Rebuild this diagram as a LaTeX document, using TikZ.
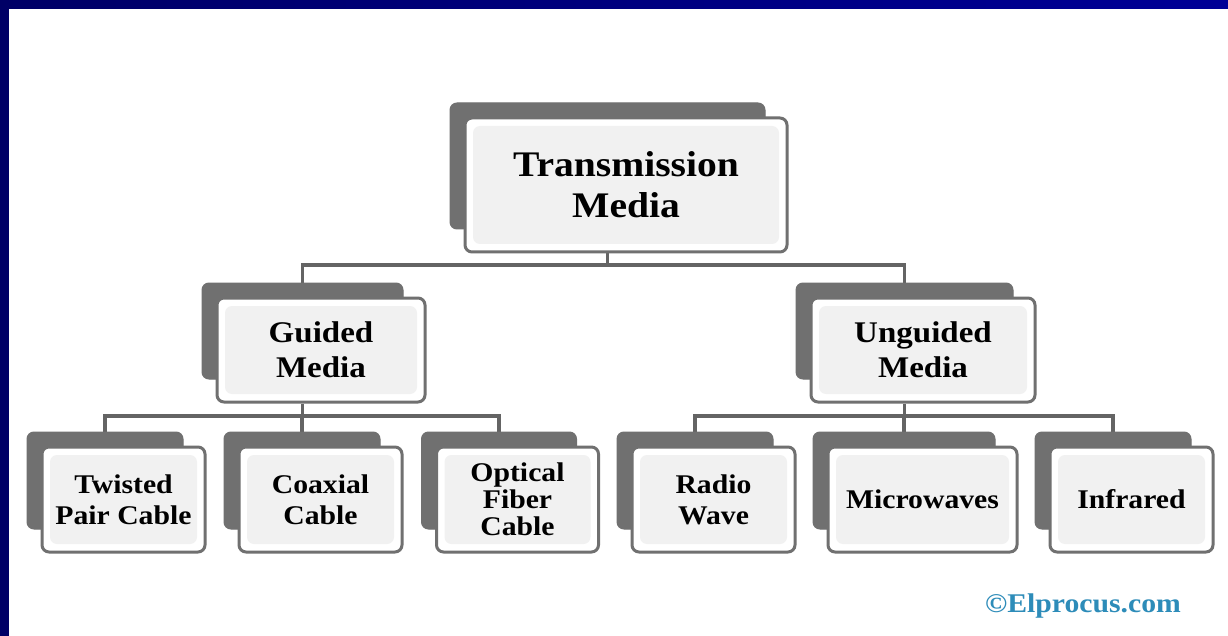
\documentclass[tikz,border=0pt]{standalone}
\usepackage{fontspec}
\setmainfont{Liberation Serif}[FakeStretch=1.1]
\usetikzlibrary{backgrounds}
\definecolor{navyl}{RGB}{0,0,102}
\definecolor{navyr}{RGB}{0,0,150}
\definecolor{shadowgray}{RGB}{112,112,112}
\definecolor{edgegray}{RGB}{112,112,112}
\definecolor{innergray}{RGB}{241,241,241}
\definecolor{linegray}{RGB}{100,100,100}
\definecolor{markblue}{RGB}{45,140,185}
\tikzset{
  shadowbox/.style={fill=shadowgray, draw=shadowgray, line width=1pt, rounded corners=7pt, inner sep=0pt},
  frontbox/.style={fill=white, draw=edgegray, line width=3pt, rounded corners=7pt, inner sep=0pt, align=center,
    path picture={\fill[innergray] ([shift={(8pt,-8pt)}]path picture bounding box.north west) rectangle ([shift={(-8pt,8pt)}]path picture bounding box.south east);}},
  toptext/.style={font=\fontsize{36}{41}\selectfont\bfseries},
  midtext/.style={font=\fontsize{30}{35}\selectfont\bfseries},
  leaftext/.style={font=\fontsize{27}{31}\selectfont\bfseries},
  leaftight/.style={font=\fontsize{27}{27}\selectfont\bfseries},
  conn/.style={draw=linegray, line width=3.2pt},
  wmark/.style={text=markblue, font=\fontsize{27}{27}\selectfont\bfseries, inner sep=0pt}
}
\newcommand\tmbox[7]{%
  \node[shadowbox, minimum width={#4-7}, minimum height={#5-8}] (#1s) at ({#2-18.5},{#3-19}) {};
  \node[frontbox, minimum width=#4, minimum height=#5, #6] (#1) at (#2,#3) {#7};
}
\begin{document}
\begin{tikzpicture}[x=1pt,y=-1pt]
\useasboundingbox (0,0) rectangle (1228,636);
% boxes
\tmbox{tm}{626}{185}{322}{134}{toptext}{Transmission\\Media}
\tmbox{gm}{321}{350}{208}{104}{midtext}{Guided\\Media}
\tmbox{um}{923}{350}{224}{104}{midtext}{Unguided\\Media}
\tmbox{tw}{123.5}{499.5}{163}{105}{leaftext}{Twisted\\Pair Cable}
\tmbox{co}{320.5}{499.5}{163}{105}{leaftext}{Coaxial\\Cable}
\tmbox{op}{517.5}{499.5}{162}{105}{leaftight}{Optical\\Fiber\\Cable}
\tmbox{ra}{713.5}{499.5}{163}{105}{leaftext}{Radio\\Wave}
\tmbox{mw}{922.5}{499.5}{189}{105}{leaftext}{Microwaves}
\tmbox{ir}{1131.5}{499.5}{163}{105}{leaftext}{Infrared}
\node[wmark, anchor=base] (wm) at (1083,612) {©Elprocus.com};
\begin{pgfonlayer}{background}
  \fill[white] (0,0) rectangle (1228,636);
  \shade[left color=navyl, right color=navyr] (0,0) rectangle (1228,9);
  \fill[navyl] (0,0) rectangle (9,636);
  \coordinate (b1) at (607.5,265);
  \coordinate (b2) at (302.5,416);
  \coordinate (b3) at (904.5,416);
  \draw[conn] (tms.center |- tm.south) -- (b1);
  \draw[conn] (gms.north) |- (b1) -| (ums.north);
  \draw[conn] (gms.center |- gm.south) -- (b2);
  \draw[conn] (tws.north) |- (b2) -| (ops.north);
  \draw[conn] (cos.north) -- (cos.north |- b2);
  \draw[conn] (ums.center |- um.south) -- (b3);
  \draw[conn] (ras.north) |- (b3) -| (irs.north);
  \draw[conn] (mws.north) -- (mws.north |- b3);
\end{pgfonlayer}
\end{tikzpicture}
\end{document}
